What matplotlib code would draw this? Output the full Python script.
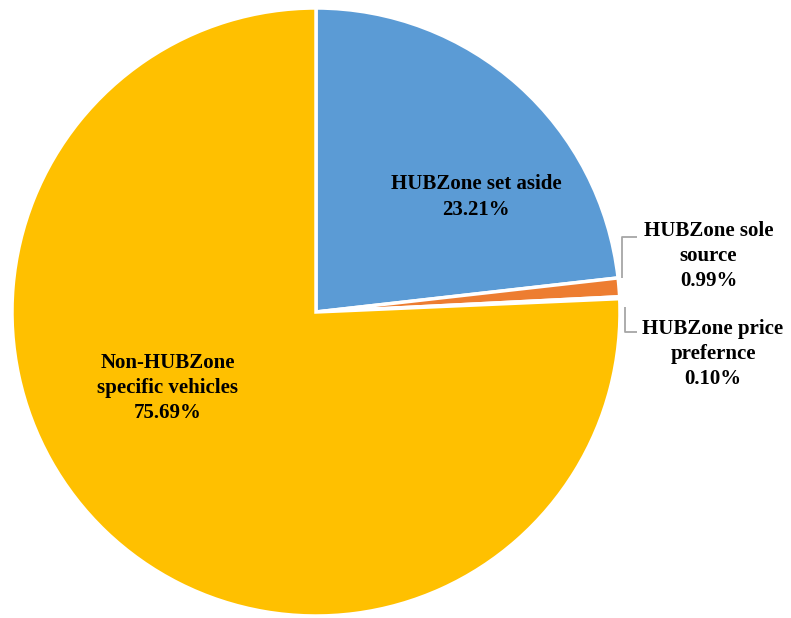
import numpy as np
import matplotlib.pyplot as plt

# HUBZone contract share by vehicle
categories = ["HUBZone set aside", "HUBZone sole\nsource", "HUBZone price\nprefernce",
              "Non-HUBZone\nspecific vehicles"]
shares = [23.21, 0.99, 0.10, 75.69]
colors = ["#5B9BD5", "#ED7D31", "#A5A5A5", "#FFC000"]

plt.rcParams['font.family'] = ['Liberation Serif', 'DejaVu Serif']

W, H = 791, 618
fig = plt.figure(figsize=(W / 100, H / 100), dpi=100)
ax = fig.add_axes([0, 0, 1, 1])

# pie center / radius in pixels
cx, cy, r = 316, 312, 304

wedges, _ = ax.pie(shares, colors=colors, startangle=90, counterclock=False,
                   radius=1, wedgeprops=dict(edgecolor='white', linewidth=2.5))
ax.set_xlim(-cx / r, (W - cx) / r)
ax.set_ylim((cy - H) / r, cy / r)
ax.set_aspect('equal')
ax.axis('off')

fs = 15
ls = 1.35
# labels inside the two large slices
ax.text(0.526, 0.378, f"{categories[0]}\n{shares[0]:.2f}%", ha='center', va='center',
        fontsize=fs, fontweight='bold', linespacing=ls)
ax.text(-0.488, -0.25, f"{categories[3]}\n{shares[3]:.2f}%", ha='center', va='center',
        fontsize=fs, fontweight='bold', linespacing=ls)

# outside labels for the small slices, with leader lines
outside = [(1, 1.291, 0.184, 0.247, 1.007), (2, 1.306, -0.138, -0.066, 1.016)]
for i, tx, ty, ly, x0 in outside:
    w = wedges[i]
    mid = np.deg2rad((w.theta1 + w.theta2) / 2)
    sy = np.sin(mid)
    y0 = sy + (0.03 if ly > sy else -0.03)
    ax.plot([x0, x0, 1.056], [y0, ly, ly],
            color='#A6A6A6', linewidth=1.3, solid_capstyle='butt')
    ax.text(tx, ty, f"{categories[i]}\n{shares[i]:.2f}%", ha='center', va='center',
            fontsize=fs, fontweight='bold', linespacing=ls)

fig.savefig("out.png", dpi=100)
